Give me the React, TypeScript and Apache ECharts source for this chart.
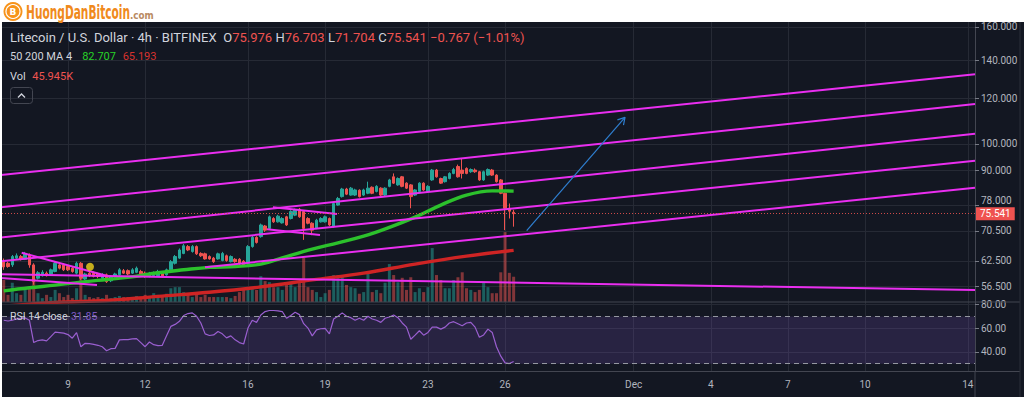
import React, { useEffect, useRef } from 'react';
import * as echarts from 'echarts';

// ---- data (4h candles, first candle = Nov 6 12:00, x in "day of Nov" units) ----
const FIRST_DAY = 6.5;
const CANDLES_PER_DAY = 6;

const OPEN = [62.3,61.9,61.5,63.2,63.6,62.9,64.0,61.5,58.3,58.9, 59.5,59.3,59.9,61.5,61.5,61.1,60.7,59.5,61.9,58.1, 59.5,59.5,59.3,58.3,59.1,57.7,58.7,59.1,60.1,60.1, 59.5,59.7,59.9,59.5,58.7,58.9,58.9,59.7,59.1,60.3, 61.9,63.2,64.4,66.2,64.9,66.2,64.4,64.3,63.6,63.2, 63.0,62.6,63.8,62.3,62.9,62.9,62.4,61.9,66.2,68.7, 68.9,71.9,71.2,74.1,73.1,72.8,74.6,74.1,75.1,76.9, 76.2,74.1,72.7,71.2,73.1,73.1,74.1,71.7,78.2,80.9, 83.4,81.4,81.4,83.0,81.4,82.0,84.0,82.6,83.7,81.4, 84.3,87.6,84.8,87.6,85.4,84.8,81.4,82.6,85.4,82.6, 86.5,90.0,87.0,85.9,87.0,88.8,91.3,90.0,90.6,89.4, 90.0,89.4,86.5,88.2,90.0,88.2,86.5,82.0,77.2,75.976];
const HIGH = [63.1,62.3,64.0,64.4,64.0,64.8,64.4,61.9,60.0,60.2, 59.9,60.6,62.3,61.9,61.9,61.5,61.1,62.3,62.2,59.6, 59.8,59.9,59.6,59.5,59.4,59.0,59.6,60.7,60.5,60.4, 60.7,61.1,60.3,59.9,59.8,59.9,60.3,60.0,60.6,62.7, 64.0,65.7,66.9,66.6,66.6,66.5,64.7,64.6,63.9,63.5, 64.6,64.8,64.1,63.9,63.2,63.2,62.7,66.6,69.1,69.0, 72.6,72.2,75.0,74.5,75.2,74.5,74.9,76.6,77.1,77.3, 76.5,74.5,73.0,74.0,74.5,75.0,74.4,79.2,80.8,83.8, 83.8,84.1,83.5,83.3,83.5,85.9,84.3,84.7,84.0,84.0, 86.9,88.8,87.4,87.9,85.7,85.1,83.4,85.7,85.7,84.7, 90.4,90.4,87.3,87.9,89.2,90.8,92.0,94.4,91.0,90.6, 90.6,89.7,89.8,90.6,90.4,88.5,86.8,82.3,78.7,76.703];
const LOW = [60.3,60.8,61.0,62.9,62.6,62.7,60.8,56.8,58.0,58.7, 58.7,59.1,59.7,60.4,60.0,60.0,59.6,59.2,57.9,57.9, 58.6,58.5,58.3,58.0,57.2,57.4,58.4,58.9,59.3,59.0, 59.3,59.5,59.0,58.4,58.5,58.7,58.7,58.4,58.9,60.0, 61.6,63.0,64.2,65.0,64.6,64.0,63.5,62.8,62.8,62.0, 62.8,62.4,62.3,62.1,62.0,61.5,61.2,61.6,65.9,67.0, 68.6,70.2,70.9,72.8,72.9,72.6,71.9,73.8,74.8,74.3, 68.0,72.4,69.3,71.0,72.9,72.9,71.9,71.4,78.0,80.6, 81.4,81.2,81.1,80.6,81.1,81.7,81.7,82.3,81.1,81.1, 84.0,85.1,84.5,84.0,83.4,77.2,81.1,82.3,82.8,82.3, 86.2,87.3,85.1,85.6,86.7,88.5,87.3,87.0,88.5,89.0, 89.0,86.2,86.2,87.9,87.9,85.6,81.7,70.7,74.1,71.704];
const CLOSE = [61.0,61.1,63.6,63.8,62.9,64.4,61.5,57.5,59.6,59.7, 58.9,60.3,61.9,60.7,60.3,60.3,59.9,61.9,58.3,59.3, 58.9,58.7,58.7,59.1,57.5,58.7,59.3,60.3,59.5,59.3, 60.3,60.7,59.3,58.7,59.5,59.5,59.9,58.7,60.3,62.3, 63.6,65.3,66.4,65.3,66.2,64.3,63.8,63.0,63.0,62.3, 64.3,64.4,62.6,63.6,62.3,61.8,61.5,66.2,68.7,67.3, 72.2,70.7,74.6,73.1,74.8,74.1,72.2,76.2,76.7,74.6, 71.2,72.7,70.7,73.6,74.1,74.6,72.2,78.7,80.3,83.4, 81.7,83.7,83.1,80.9,83.1,83.7,82.0,84.3,81.4,83.7, 86.5,85.4,87.0,84.3,83.7,80.9,83.1,85.4,83.1,84.3, 90.0,87.6,85.4,87.6,88.8,90.2,87.6,88.8,88.8,90.2, 89.4,86.5,89.4,90.2,88.2,85.9,82.0,77.2,76.308,75.541];
const VOLUME_K = [40,13,35,16,13,22,27,44,16,7, 13,9,22,16,9,13,7,25,45,13, 9,7,9,7,13,7,9,11,9,9, 9,11,9,13,9,16,13,11,15,25, 27,27,18,13,9,16,9,13,9,9, 9,9,9,7,11,18,22,27,27,22, 47,38,36,27,27,22,35,35,27,35, 80,27,22,18,9,16,22,49,49,47, 31,27,25,15,18,54,18,22,16,35, 69,49,36,44,22,45,18,25,18,27, 98,49,40,25,25,40,45,54,25,22, 18,22,35,27,16,16,54,127,53,45.945];
const RSI = [66.8,66.2,66.8,67.9,68.5,68.8,66.8,47.9,49.6,50.2, 49.3,53.0,56.7,56.4,55.9,54.7,51.6,56.4,44.4,47.3, 47.0,46.4,45.6,44.4,41.0,42.7,43.0,50.2,50.4,50.4, 51.0,51.3,47.9,44.4,48.4,46.1,45.3,45.6,53.6,61.6, 63.3,65.9,70.8,72.5,73.1,70.2,64.5,55.3,53.9,54.4, 57.3,55.3,51.9,53.6,50.2,47.9,46.7,60.2,66.8,65.0, 71.3,74.2,75.1,75.1,74.8,74.2,68.5,70.8,73.6,71.6, 63.9,60.2,53.6,58.7,59.6,59.9,55.3,67.9,70.2,73.1, 70.2,69.0,66.8,68.5,66.8,70.2,67.9,66.8,65.0,68.5, 69.6,71.3,69.0,64.5,61.0,50.7,54.2,57.9,54.2,56.5, 61.0,61.0,59.3,61.0,64.5,65.6,63.9,62.2,64.5,65.0, 61.0,52.4,54.4,59.3,56.5,44.4,36.4,30.7,30.1,31.85];

const MA50_IDX = [0,6,12,18,24,30,36,42,48,54,60,66,72,78,84,90,96,102,108,114,119];
const MA50 = [55.4,56.1,56.7,57.4,58.0,58.6,59.6,60.3,60.9,61.1,61.7,63.6,65.5,67.2,69.0,71.5,74.5,78.2,81.4,82.8,82.707];
const MA200_IDX = [0,12,24,36,48,60,72,84,96,108,119];
const MA200 = [52.1,52.9,53.3,54.2,55.1,56.3,57.9,59.5,61.7,63.7,65.193];

// trend lines: [[day, price], [day, price]]
const TRENDLINES = [
  [[6.355, 88.23], [44.278, 132.2]],
  [[6.355, 77.5], [44.278, 117.3]],
  [[6.355, 68.61], [44.278, 104.1]],
  [[6.355, 62.39], [44.278, 93.44]],
  [[14.329, 60.95], [44.278, 83.84]],
  [[6.355, 59.21], [44.278, 55.6]],
  [[7.199, 64.58], [10.634, 58.65]],
  [[6.355, 58.34], [10.128, 56.73]],
  [[16.973, 77.5], [19.463, 75.45]],
  [[16.74, 70.97], [18.802, 69.35]],
];
const ARROW = [[26.841, 70.57], [30.665, 111.2]];
const ARROW_HEAD = [[30.369, 110.07], [30.665, 111.2], [30.606, 107.76]];
const EVENT = [[9.856, 61.05]];

const PRICE_TICKS = [56.5, 62.5, 70.5, 78, 90, 100, 120, 140, 160];
const RSI_TICKS = [40, 60, 80];
const DAY_TICKS = [9, 12, 16, 19, 23, 26, 31, 34, 37, 40, 44];
const RSI_BANDS = [30, 70];

const X_MIN = 6.433, X_MAX = 44.278;
const P_MIN = 52.99, P_MAX = 163.09;
const R_MIN = 23.39, R_MAX = 82.29;
const VOL_MAX = 509;

const BG = '#131722';
const UP = '#26a69a';
const DOWN = '#ef5350';
const GRID = '#262a35';
const BORDER = '#434651';
const TXT = '#b2b5be';
const LEG = '#d1d4dc';
const MAGENTA = '#ea2ef0';
const FONT = 'Roboto, "Noto Sans", sans-serif';

const dayX = (i: number) => FIRST_DAY + i / CANDLES_PER_DAY;
const dayLabel = (v: number) => {
  const d = Math.round(v);
  return d <= 30 ? String(d) : d === 31 ? 'Dec' : String(d - 30);
};

export default function App() {
  const ref = useRef<HTMLDivElement>(null);
  useEffect(() => {
    document.body.style.margin = '0';
    const chart = echarts.init(ref.current!, null, { renderer: 'svg' });
    const n = CLOSE.length;
    const last = CLOSE[n - 1];
    const chg = last - CLOSE[n - 2];
    const pct = (chg / CLOSE[n - 2]) * 100;
    const sgn = (v: number) => (v < 0 ? '\u2212' : '+') + Math.abs(v).toFixed(3);

    // logo sizing
    const ctx = document.createElement('canvas').getContext('2d')!;
    ctx.font = 'bold 20px "DejaVu Sans"';
    const logoW = ctx.measureText('HuongDanBitcoin').width || 160;
    const logoScale = 104 / logoW;

    const line = (data: any, color: string, width: number, z: number, extra: any = {}) => ({
      type: 'line', xAxisIndex: 0, yAxisIndex: 0, data, showSymbol: false, symbol: 'none',
      silent: true, lineStyle: { color, width }, z, ...extra,
    });

    // price labels: the one just above the last-price box is nudged up so both stay readable
    const priceLabel = (v: number) => {
      const s = Number(v).toFixed(3);
      const y = Math.log10(v), yl = Math.log10(last);
      return y > yl && y - yl < 0.02 ? `{up|${s}}` : s;
    };

    const option: any = {
      animation: false,
      backgroundColor: BG,
      grid: [
        { left: 2, right: 49, top: 22, height: 280 },
        { left: 2, right: 49, top: 302, height: 69.5 },
      ],
      xAxis: [
        { gridIndex: 0, type: 'value', min: X_MIN, max: X_MAX,
          axisLine: { show: false }, axisTick: { show: false, customValues: DAY_TICKS },
          axisLabel: { show: false, customValues: DAY_TICKS },
          splitLine: { show: true, lineStyle: { color: GRID } } },
        { gridIndex: 1, type: 'value', min: X_MIN, max: X_MAX,
          axisLine: { show: true, lineStyle: { color: BORDER } },
          axisTick: { show: false, customValues: DAY_TICKS },
          axisLabel: { customValues: DAY_TICKS, formatter: dayLabel, color: TXT, fontSize: 10, fontFamily: FONT, margin: 8 },
          splitLine: { show: true, lineStyle: { color: GRID } } },
      ],
      yAxis: [
        { gridIndex: 0, type: 'log', logBase: 10, min: P_MIN, max: P_MAX, position: 'right',
          axisLine: { show: true, lineStyle: { color: BORDER } },
          axisTick: { show: true, length: 4, customValues: PRICE_TICKS, lineStyle: { color: '#787b86' } },
          axisLabel: { customValues: PRICE_TICKS, formatter: priceLabel, color: TXT, fontSize: 10, fontFamily: FONT, margin: 6,
            rich: { up: { color: TXT, fontSize: 10, fontFamily: FONT, padding: [0, 0, 10, 0] } } },
          splitLine: { show: true, lineStyle: { color: GRID } } },
        { gridIndex: 0, type: 'value', min: 0, max: VOL_MAX, show: false, splitLine: { show: false } },
        { gridIndex: 1, type: 'value', min: R_MIN, max: R_MAX, position: 'right',
          axisLine: { show: true, lineStyle: { color: BORDER } },
          axisTick: { show: true, length: 4, customValues: RSI_TICKS, lineStyle: { color: '#787b86' } },
          axisLabel: { customValues: RSI_TICKS, formatter: (v: number) => Number(v).toFixed(2), color: TXT, fontSize: 10, fontFamily: FONT, margin: 6 },
          splitLine: { show: true, lineStyle: { color: GRID } } },
      ],
      series: [
        { type: 'bar', xAxisIndex: 0, yAxisIndex: 1, barWidth: 3, silent: true, z: 1,
          data: VOLUME_K.map((v, i) => ({ value: [dayX(i), v],
            itemStyle: { color: CLOSE[i] >= OPEN[i] ? 'rgba(38,166,154,0.5)' : 'rgba(239,83,80,0.5)' } })) },
        { type: 'candlestick', xAxisIndex: 0, yAxisIndex: 0, barWidth: 3, silent: true, z: 3,
          data: OPEN.map((o, i) => [dayX(i), o, CLOSE[i], LOW[i], HIGH[i]]),
          itemStyle: { color: UP, color0: DOWN, borderColor: UP, borderColor0: DOWN, borderWidth: 1 },
          markLine: { symbol: ['none', 'none'], silent: true, z: 10,
            lineStyle: { color: 'rgba(239,83,80,0.85)', type: [1, 2], width: 1 },
            label: { show: true, position: 'end', formatter: last.toFixed(3), backgroundColor: DOWN,
              color: '#ffffff', padding: [2, 4, 1, 4], fontSize: 10, fontFamily: FONT, distance: 1 },
            data: [{ yAxis: last }] } },
        line(MA50_IDX.map((idx, k) => [dayX(idx), MA50[k]]), '#2cc12c', 3.4, 4, { smooth: 0.4 }),
        line(MA200_IDX.map((idx, k) => [dayX(idx), MA200[k]]), '#cf2424', 3.4, 4, { smooth: 0.4 }),
        ...TRENDLINES.map((seg) => line(seg, MAGENTA, 2, 6)),
        line(ARROW, '#2f7fd0', 1.2, 6),
        line(ARROW_HEAD, '#2f7fd0', 1.2, 6),
        { type: 'scatter', xAxisIndex: 0, yAxisIndex: 0, data: EVENT, symbolSize: 8, silent: true, z: 7,
          itemStyle: { color: '#f2d31b' } },
        { type: 'line', xAxisIndex: 1, yAxisIndex: 2, data: RSI.map((v, i) => [dayX(i), v]),
          showSymbol: false, symbol: 'none', silent: true, z: 3, lineStyle: { color: '#9a5fd0', width: 1.2 },
          markArea: { silent: true, itemStyle: { color: 'rgba(126,87,194,0.2)' },
            data: [[{ xAxis: X_MIN, yAxis: RSI_BANDS[0] }, { xAxis: X_MAX, yAxis: RSI_BANDS[1] }]] },
          markLine: { symbol: ['none', 'none'], silent: true, label: { show: false },
            lineStyle: { color: '#9598a1', type: [5, 4], width: 1 },
            data: RSI_BANDS.map((b) => ({ yAxis: b })) } },
      ],
      graphic: [
        { type: 'rect', shape: { x: 0, y: 0, width: 1024, height: 22 }, style: { fill: '#ffffff' }, z: 50, silent: true },
        { type: 'rect', shape: { x: 0, y: 22, width: 2, height: 375 }, style: { fill: '#ffffff' }, z: 50, silent: true },
        // logo
        { type: 'circle', shape: { cx: 13, cy: 11.5, r: 9.5 }, style: { fill: '#f7931a' }, z: 51 },
        { type: 'circle', shape: { cx: 13, cy: 11.5, r: 7.6 }, style: { fill: '#ffffff' }, z: 52 },
        { type: 'circle', shape: { cx: 13, cy: 11.5, r: 6.4 }, style: { fill: '#f7931a' }, z: 53 },
        { type: 'text', x: 13, y: 12, z: 54, style: { text: 'B', fill: '#ffffff', font: 'bold 9px "DejaVu Sans"', align: 'center', verticalAlign: 'middle' } },
        { type: 'text', x: 26, y: 12, scaleX: logoScale, z: 54, style: { text: 'HuongDanBitcoin', fill: '#f08a1c', font: 'bold 20px "DejaVu Sans"', align: 'left', verticalAlign: 'middle' } },
        { type: 'text', x: 130, y: 15, scaleX: 0.8, z: 54, style: { text: '.com', fill: '#b98a62', font: 'bold 11px "DejaVu Sans"', align: 'left', verticalAlign: 'middle' } },
        // separators
        { type: 'line', shape: { x1: 2, y1: 302, x2: 1020, y2: 302 }, style: { stroke: BORDER, lineWidth: 1 }, z: 40, silent: true },
        { type: 'line', shape: { x1: 975, y1: 371.5, x2: 1020, y2: 371.5 }, style: { stroke: BORDER, lineWidth: 1 }, z: 40, silent: true },
        { type: 'line', shape: { x1: 975, y1: 371.5, x2: 975, y2: 397 }, style: { stroke: BORDER, lineWidth: 1 }, z: 40, silent: true },
        { type: 'line', shape: { x1: 1020, y1: 22, x2: 1020, y2: 397 }, style: { stroke: '#2a2e39', lineWidth: 1 }, z: 40, silent: true },
        // legends
        { type: 'text', x: 10, y: 37, z: 60, style: {
          text: `{t|Litecoin / U.S. Dollar \u00b7 4h \u00b7 BITFINEX}  {l|O}{v|${OPEN[n - 1].toFixed(3)}} {l|H}{v|${HIGH[n - 1].toFixed(3)}} {l|L}{v|${LOW[n - 1].toFixed(3)}} {l|C}{v|${last.toFixed(3)}} {v|${sgn(chg)} (${pct < 0 ? '\u2212' : '+'}${Math.abs(pct).toFixed(2)}%)}`,
          verticalAlign: 'middle',
          rich: {
            t: { fill: LEG, fontSize: 13, fontFamily: FONT },
            l: { fill: LEG, fontSize: 13, fontFamily: FONT },
            v: { fill: DOWN, fontSize: 13, fontFamily: FONT },
          } } },
        { type: 'text', x: 10, y: 56, z: 60, style: {
          text: `{t|50 200 MA 4}   {g|${MA50[MA50.length - 1].toFixed(3)}}  {r|${MA200[MA200.length - 1].toFixed(3)}}`,
          verticalAlign: 'middle',
          rich: {
            t: { fill: LEG, fontSize: 11, fontFamily: FONT },
            g: { fill: '#27d327', fontSize: 11, fontFamily: FONT },
            r: { fill: '#d8322e', fontSize: 11, fontFamily: FONT },
          } } },
        { type: 'text', x: 10, y: 76, z: 60, style: {
          text: `{t|Vol}  {r|${VOLUME_K[n - 1].toFixed(3)}K}`,
          verticalAlign: 'middle',
          rich: {
            t: { fill: LEG, fontSize: 11, fontFamily: FONT },
            r: { fill: DOWN, fontSize: 11, fontFamily: FONT },
          } } },
        { type: 'rect', shape: { x: 10.5, y: 87.5, width: 22, height: 16, r: 3 }, style: { fill: 'rgba(0,0,0,0)', stroke: BORDER, lineWidth: 1 }, z: 60 },
        { type: 'polyline', shape: { points: [[18, 97.5], [21.5, 94], [25, 97.5]] }, style: { stroke: LEG, lineWidth: 1.3, fill: 'none' }, z: 61 },
        { type: 'text', x: 10, y: 316, z: 60, style: {
          text: `{t|RSI 14 close} {p|${RSI[n - 1].toFixed(2)}}`,
          verticalAlign: 'middle',
          rich: {
            t: { fill: LEG, fontSize: 10.5, fontFamily: FONT },
            p: { fill: '#7e57c2', fontSize: 10.5, fontFamily: FONT },
          } } },
      ],
    };
    chart.setOption(option);
    return () => chart.dispose();
  }, []);
  return <div ref={ref} style={{ width: 1024, height: 397 }} />;
}
